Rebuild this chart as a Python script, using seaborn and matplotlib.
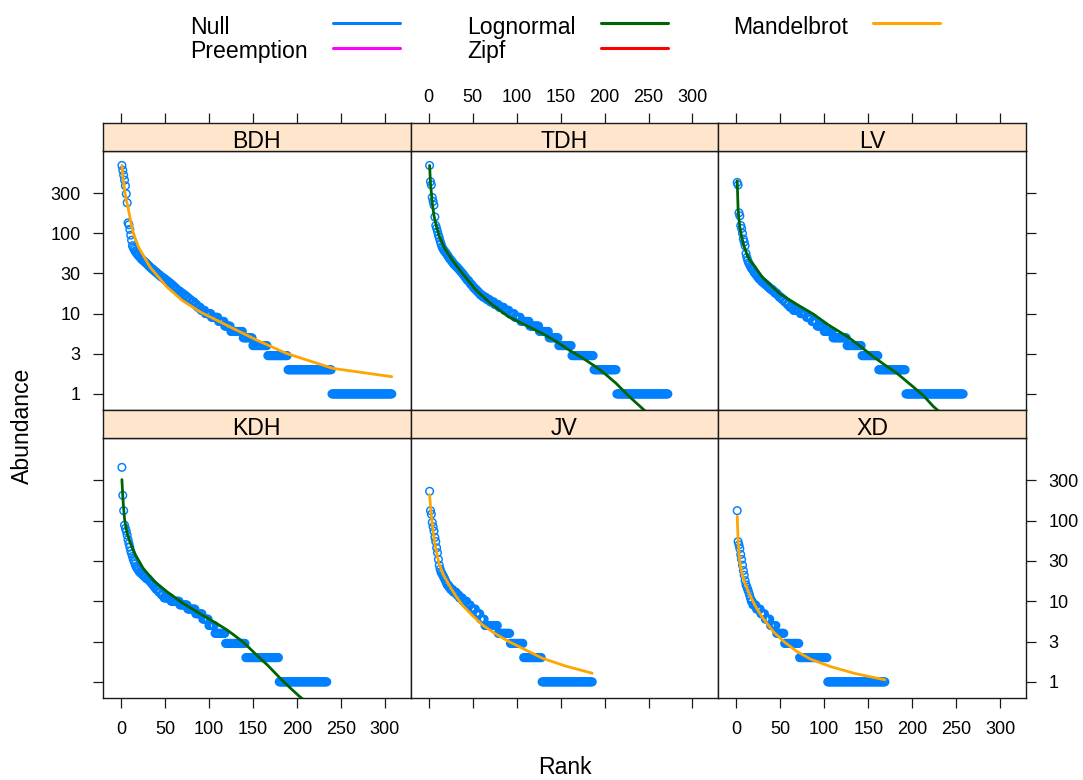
import numpy as np
import pandas as pd
import matplotlib
matplotlib.use("Agg")
import matplotlib.pyplot as plt
from matplotlib.lines import Line2D
import seaborn as sns

sns.set_theme(style="white")
plt.rcParams['font.family'] = ['Liberation Sans', 'DejaVu Sans']
plt.rcParams['text.color'] = 'black'
plt.rcParams['xtick.color'] = 'black'
plt.rcParams['ytick.color'] = 'black'
plt.rcParams['axes.labelcolor'] = 'black'

# ---------------- data ----------------
sites = ["BDH", "TDH", "LV", "KDH", "JV", "XD"]
low_vals = [10, 9, 8, 7, 6, 5, 4, 3, 2, 1]

bdh_top = [700, 610, 530, 460, 390, 310, 240,
           135, 128, 112, 95, 82,
           70, 66, 63, 60, 58,
           56, 54, 53, 51, 50, 48, 47, 46, 45, 44, 43, 42, 41, 40, 39, 38,
           37, 36, 36, 35, 34, 33, 33, 32, 31, 31, 30,
           29, 29, 28, 28, 27, 27, 26, 26, 25, 25, 24, 24, 23, 23, 22, 22, 21, 21, 20,
           20, 19, 19, 19, 18, 18, 18, 17, 17, 17, 16, 16, 16, 15, 15, 15, 14, 14, 14, 14, 13, 13, 13,
           12, 12, 12, 12, 11, 11, 11, 11, 11]
bdh_low = [7, 8, 7, 7, 14, 11, 17, 23, 50, 69]

tdh_top = [700, 440, 400, 280, 250, 224, 160, 125, 115, 105,
           95, 88, 80, 74, 68,
           65, 62, 60, 58, 56, 54, 52, 50, 48, 47, 45, 44, 42, 41, 40, 39, 38, 37, 36, 35,
           34, 33, 32, 31, 30, 29, 28, 27, 26, 26, 25, 24, 23, 23, 22, 21, 21, 20, 20, 19, 19, 18, 18, 17,
           17, 17, 16, 16, 16, 16, 15, 15, 15, 15, 14, 14, 14, 14, 14, 13, 13, 13, 13, 13,
           12, 12, 12, 12, 12, 12, 11, 11, 11, 11, 11, 11]
tdh_low = [6, 7, 10, 11, 11, 11, 15, 25, 26, 59]

lv_top = [430, 400, 180, 165, 125, 115, 100, 85, 78, 70,
          56, 50, 46, 43,
          41, 39, 37, 36, 35, 33, 32, 31, 30, 29, 28, 27, 27, 26, 25, 25, 24,
          24, 23, 23, 22, 22, 21, 21, 20, 20, 20, 19, 19, 18, 18, 18, 17, 17, 16, 16, 16,
          15, 15, 15, 14, 14, 14, 13, 13, 13, 12,
          12, 12, 12, 11, 11, 11, 11, 11, 11, 11, 11]
lv_low = [7, 6, 6, 8, 10, 16, 17, 19, 31, 66]

kdh_top = [458, 206, 133, 88, 80, 74, 66, 58, 52, 47,
           42, 39, 36, 33, 31, 29, 27, 26,
           25, 24, 23, 23, 22, 22, 21, 21, 20, 20, 19,
           19, 19, 18, 18, 17, 17, 16, 16, 15, 15, 14, 14, 14, 13, 13,
           13, 12, 12, 12,
           11, 11, 11, 11, 11, 11, 11, 11]
kdh_low = [10, 9, 9, 8, 7, 7, 12, 23, 38, 55]

jv_top = [231, 133, 120, 95, 84, 74, 62, 55, 46, 40, 33, 28,
          25, 23, 22, 21, 20, 19, 18, 17,
          16, 16, 15, 15, 14, 14, 14, 13, 13, 13, 13,
          12, 12, 12, 11, 11, 11, 11]
jv_low = [5, 4, 6, 5, 5, 15, 14, 15, 21, 58]

xd_top = [133, 55, 50, 45, 38, 33, 28, 24, 21, 18,
          16, 15, 14, 13, 12, 11]
xd_low = [2, 4, 5, 5, 6, 7, 9, 17, 32, 66]

top_lists = [bdh_top, tdh_top, lv_top, kdh_top, jv_top, xd_top]
low_lists = [bdh_low, tdh_low, lv_low, kdh_low, jv_low, xd_low]

# fitted models
fit_models = ["Mandelbrot", "Lognormal", "Lognormal", "Lognormal", "Mandelbrot", "Mandelbrot"]
bdh_fit_rank = [1, 2, 3, 4, 6, 8, 11, 14, 20, 33, 52, 70, 90, 128, 154, 188, 241, 308]
bdh_fit_val = [700, 520, 430, 350, 260, 210, 140, 100, 67, 38, 21.6, 14.5, 10.5, 6.5, 4.7, 3.2, 2.08, 1.64]
tdh_fit_rank = [1, 2, 3, 4, 6, 9, 12, 18, 27, 40, 54, 70, 91, 110, 129, 145, 160, 175, 190, 200, 213, 228, 245, 255]
tdh_fit_val = [700, 420, 320, 240, 165, 120, 92, 65, 46, 30, 19.5, 13.5, 9.1, 7.2, 5.67, 4.5, 3.5, 2.8, 2.18, 1.8, 1.36, 0.93, 0.63, 0.5]
lv_fit_rank = [1, 2, 3, 4, 6, 9, 12, 15, 20, 30, 50, 70, 88, 105, 126, 140, 156, 170, 183, 201, 213, 224, 235]
lv_fit_val = [450, 200, 150, 120, 90, 68, 55, 47, 40, 28, 17.5, 12.8, 9.8, 7.2, 5.2, 4.0, 2.9, 2.25, 1.8, 1.23, 0.95, 0.70, 0.55]
kdh_fit_rank = [1, 2, 3, 4, 5, 7, 10, 15, 25, 37, 52, 70, 90, 110, 120, 128, 140, 154, 167, 181, 192, 203, 212]
kdh_fit_val = [323, 200, 140, 105, 90, 70, 55, 40, 25.8, 18, 13.2, 9.5, 7.0, 5.2, 4.45, 3.84, 3.05, 2.16, 1.6, 1.11, 0.85, 0.66, 0.55]
jv_fit_rank = [1, 2, 3, 4, 6, 8, 12, 17, 23, 30, 38, 50, 61, 75, 91, 110, 129, 155, 186]
jv_fit_val = [210, 150, 118, 90, 60.7, 45, 28.4, 21, 16, 12, 9, 6.6, 5.1, 4.0, 3.17, 2.5, 1.97, 1.58, 1.28]
xd_fit_rank = [1, 2, 3, 4, 5, 7, 9, 12, 16, 23, 30, 42, 55, 69, 85, 107, 135, 169]
xd_fit_val = [113, 58, 40, 31, 26, 21, 17.5, 14.6, 11.5, 8.2, 6.2, 4.2, 3.1, 2.38, 1.9, 1.55, 1.27, 1.06]
fit_ranks = [bdh_fit_rank, tdh_fit_rank, lv_fit_rank, kdh_fit_rank, jv_fit_rank, xd_fit_rank]
fit_vals = [bdh_fit_val, tdh_fit_val, lv_fit_val, kdh_fit_val, jv_fit_val, xd_fit_val]

legend_models = ["Null", "Preemption", "Lognormal", "Zipf", "Mandelbrot"]
model_colors = {"Null": "#0080ff", "Preemption": "#ff00ff", "Lognormal": "#006400",
                "Zipf": "#ff0000", "Mandelbrot": "#ffa500"}

x_ticks = [0, 50, 100, 150, 200, 250, 300]
y_tick_labels = ["1", "3", "10", "30", "100", "300"]

# ---------------- assemble tables ----------------
rows = []
for s, top, low in zip(sites, top_lists, low_lists):
    ab = list(top) + list(np.repeat(low_vals, low))
    for k, a in enumerate(ab):
        rows.append((s, k + 1, a))
df = pd.DataFrame(rows, columns=["site", "rank", "abundance"])

frows = []
for s, m, rr, vv in zip(sites, fit_models, fit_ranks, fit_vals):
    for r_, v_ in zip(rr, vv):
        frows.append((s, m, r_, v_))
fits = pd.DataFrame(frows, columns=["site", "model", "rank", "fitted"])

# ---------------- layout ----------------
W, H = 1083, 780
fig = plt.figure(figsize=(W / 100, H / 100), dpi=100)
col_x = [103, 410.7, 718.3]
col_w = 307.7
row_geo = [(123, 151, 410), (410, 438, 698)]
xlim = (-20.5, 329.5)
ylim = (10 ** -0.2, 10 ** 3.025)
y_ticks = [10 ** (k / 2) for k in range(6)]
tick_fs = 13
lab_fs = 16.6
frame_col = "#1a1a1a"

def fx(px):
    return px / W

def fy(py):
    return 1 - py / H

for i, site in enumerate(sites):
    r, c = divmod(i, 3)
    st, pt, pb = row_geo[r]
    x0 = col_x[c]
    ax = fig.add_axes([fx(x0), fy(pb), col_w / W, (pb - pt) / H])
    sax = fig.add_axes([fx(x0), fy(pt), col_w / W, (pt - st) / H])

    sub = df[df.site == site]
    sns.scatterplot(data=sub, x="rank", y="abundance", ax=ax, s=30,
                    color="#0080ff", linewidth=1.05, legend=False, zorder=2)
    pts = ax.collections[-1]
    pts.set_facecolor("none")
    pts.set_edgecolor("#0080ff")

    fsub = fits[fits.site == site]
    sns.lineplot(data=fsub, x="rank", y="fitted", ax=ax, color=model_colors[fit_models[i]],
                 lw=2, estimator=None, sort=False, legend=False, zorder=3)

    ax.set_yscale("log")
    ax.set_xlim(*xlim)
    ax.set_ylim(*ylim)
    ax.set_xlabel("")
    ax.set_ylabel("")
    ax.minorticks_off()
    ax.set_facecolor("white")
    for sp in ax.spines.values():
        sp.set_visible(True)
        sp.set_color(frame_col)
        sp.set_linewidth(1)

    ax.set_xticks(x_ticks)
    ax.set_xticklabels([str(t) for t in x_ticks])
    if r == 1:
        ax.tick_params(axis="x", which="both", bottom=True, top=False,
                       labelbottom=(c != 1), labeltop=False, direction="out",
                       length=7.2, width=0.9, color=frame_col, pad=9.5, labelsize=tick_fs)
    else:
        ax.tick_params(axis="x", which="both", bottom=False, top=False,
                       labelbottom=False, labeltop=False)
    ax.set_yticks(y_ticks)
    ax.set_yticklabels(y_tick_labels)
    ax.tick_params(axis="y", which="both", left=(c == 0), right=(c == 2),
                   labelleft=(c == 0 and r == 0), labelright=(c == 2 and r == 1),
                   direction="out", length=7.2, width=0.9, color=frame_col,
                   pad=9, labelsize=tick_fs)

    # strip
    sax.set_facecolor("#ffe5cc")
    sax.set_xlim(*xlim)
    sax.set_ylim(0, 1)
    sax.set_yticks([])
    for sp in sax.spines.values():
        sp.set_visible(True)
        sp.set_color(frame_col)
        sp.set_linewidth(1)
    if r == 0:
        sax.set_xticks(x_ticks)
        sax.set_xticklabels([str(t) for t in x_ticks])
        sax.tick_params(axis="x", bottom=False, top=True, labelbottom=False,
                        labeltop=(c == 1), direction="out", length=7.2, width=0.9,
                        color=frame_col, pad=5, labelsize=tick_fs)
    else:
        sax.set_xticks([])
    sax.text(0.5, 0.1, site, transform=sax.transAxes, ha="center", va="baseline",
             fontsize=lab_fs, color="black")

# axis titles
fig.text(fx(564.5), fy(768), "Rank", ha="center", va="center", fontsize=lab_fs)
fig.text(fx(22), fy(426), "Abundance", ha="center", va="center", rotation=90, fontsize=lab_fs)

# legend (key at the top)
leg_text_x = {"Null": 190, "Preemption": 190, "Lognormal": 467, "Zipf": 467, "Mandelbrot": 733}
leg_line_x = {"Null": 333, "Preemption": 333, "Lognormal": 601, "Zipf": 601, "Mandelbrot": 873}
leg_row = {"Null": 0, "Preemption": 1, "Lognormal": 0, "Zipf": 1, "Mandelbrot": 0}
base_y = [34, 58]
line_y = [23, 48]
for m in legend_models:
    rr = leg_row[m]
    fig.text(fx(leg_text_x[m]), fy(base_y[rr]), m, ha="left", va="baseline", fontsize=lab_fs)
    x1 = leg_line_x[m]
    fig.add_artist(Line2D([fx(x1), fx(x1 + 67)], [fy(line_y[rr]), fy(line_y[rr])],
                          transform=fig.transFigure, color=model_colors[m], lw=2.2))

fig.savefig("out.png", dpi=100)
